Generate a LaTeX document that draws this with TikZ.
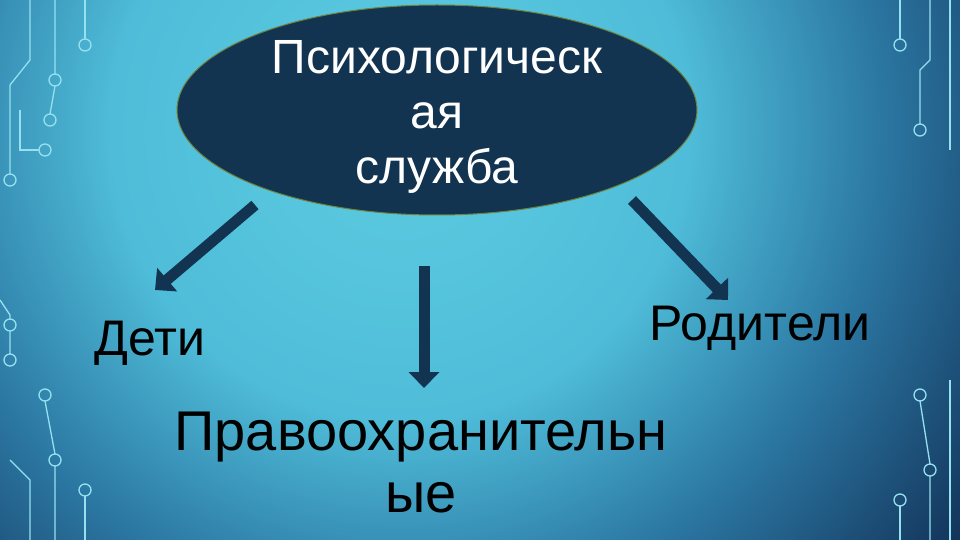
\documentclass[tikz,border=0pt]{standalone}
\usepackage{fontspec}
\setmainfont{Liberation Sans}
\usetikzlibrary{arrows.meta,shapes.geometric}
\definecolor{navy}{RGB}{18,52,80}
\definecolor{cir}{RGB}{150,225,240}
\pgfdeclareradialshading{bgshade}{\pgfpoint{0bp}{0bp}}{rgb(0bp)=(0.36,0.80,0.88);rgb(9bp)=(0.31,0.74,0.85);rgb(15bp)=(0.17,0.47,0.64);rgb(22bp)=(0.07,0.19,0.34);rgb(50bp)=(0.06,0.16,0.30)}
\tikzset{bigarrow/.style={line width=11pt,draw=navy,-{Triangle[length=16pt,width=30pt]}},
 circ/.style={draw=cir,line width=1.3pt},
 lbl/.style={text=black,font=\fontsize{50}{58}\selectfont,align=center}}
\begin{document}
\begin{tikzpicture}[x=1pt,y=-1pt]
\useasboundingbox (0,0) rectangle (960,540);
\begin{scope}
\clip (0,0) rectangle (960,540);
\shade[shading=bgshade] (400,130) circle (800);
\end{scope}
% circuit decorations
\draw[circ] (30,0) -- (30,60) -- (10,85) -- (10,174);
\draw[circ] (55,0) -- (55,74) (55,86) -- (50,114);
\draw[circ] (85,0) -- (85,39);
\draw[circ] (20,110) -- (20,150) -- (39,150);
\draw[circ] (930,0) -- (930,60) -- (920,70) -- (920,124);
\draw[circ] (900,0) -- (900,39);
\draw[circ] (950,0) -- (950,150);
\draw[circ] (30,540) -- (30,480) -- (10,460);
\draw[circ] (55,540) -- (55,466) (55,454) -- (45,401);
\draw[circ] (85,540) -- (85,496);
\draw[circ] (930,540) -- (930,476) (930,464) -- (920,401);
\draw[circ] (900,540) -- (900,506);
\draw[circ] (950,540) -- (950,380);
\draw[circ] (0,300) -- (10,315) -- (10,319) (10,331) -- (10,354);
\foreach \c in {(85,45),(55,80),(50,120),(45,150),(10,180),(900,45),(920,130),(45,395),(55,460),(85,490),(920,395),(900,500),(930,470),(10,325),(10,360)}
 \draw[circ] \c circle (6);
% ellipse
\node[draw={rgb,255:red,110;green,130;blue,60},fill=navy,ellipse,minimum width=520,minimum height=210,line width=1pt] (e) at (437,110) {};
\node[lbl,text=white,font=\fontsize{48}{55}\selectfont] (t) at (437,117) {Психологическ\\ая\\служба};
\coordinate (la) at (255,205); \coordinate (lb) at (155,290);
\coordinate (ma) at (424,266); \coordinate (mb) at (424,388);
\coordinate (ra) at (632,200); \coordinate (rb) at (728,300);
\draw[bigarrow] (la) -- (lb);
\draw[bigarrow] (ma) -- (mb);
\draw[bigarrow] (ra) -- (rb);
\node[lbl] (d) at (150,343) {Дети};
\node[lbl] (r) at (760,328) {Родители};
\node[lbl,font=\fontsize{56}{62}\selectfont] (p) at (421,463) {Правоохранительн\\ые};
\end{tikzpicture}
\end{document}
